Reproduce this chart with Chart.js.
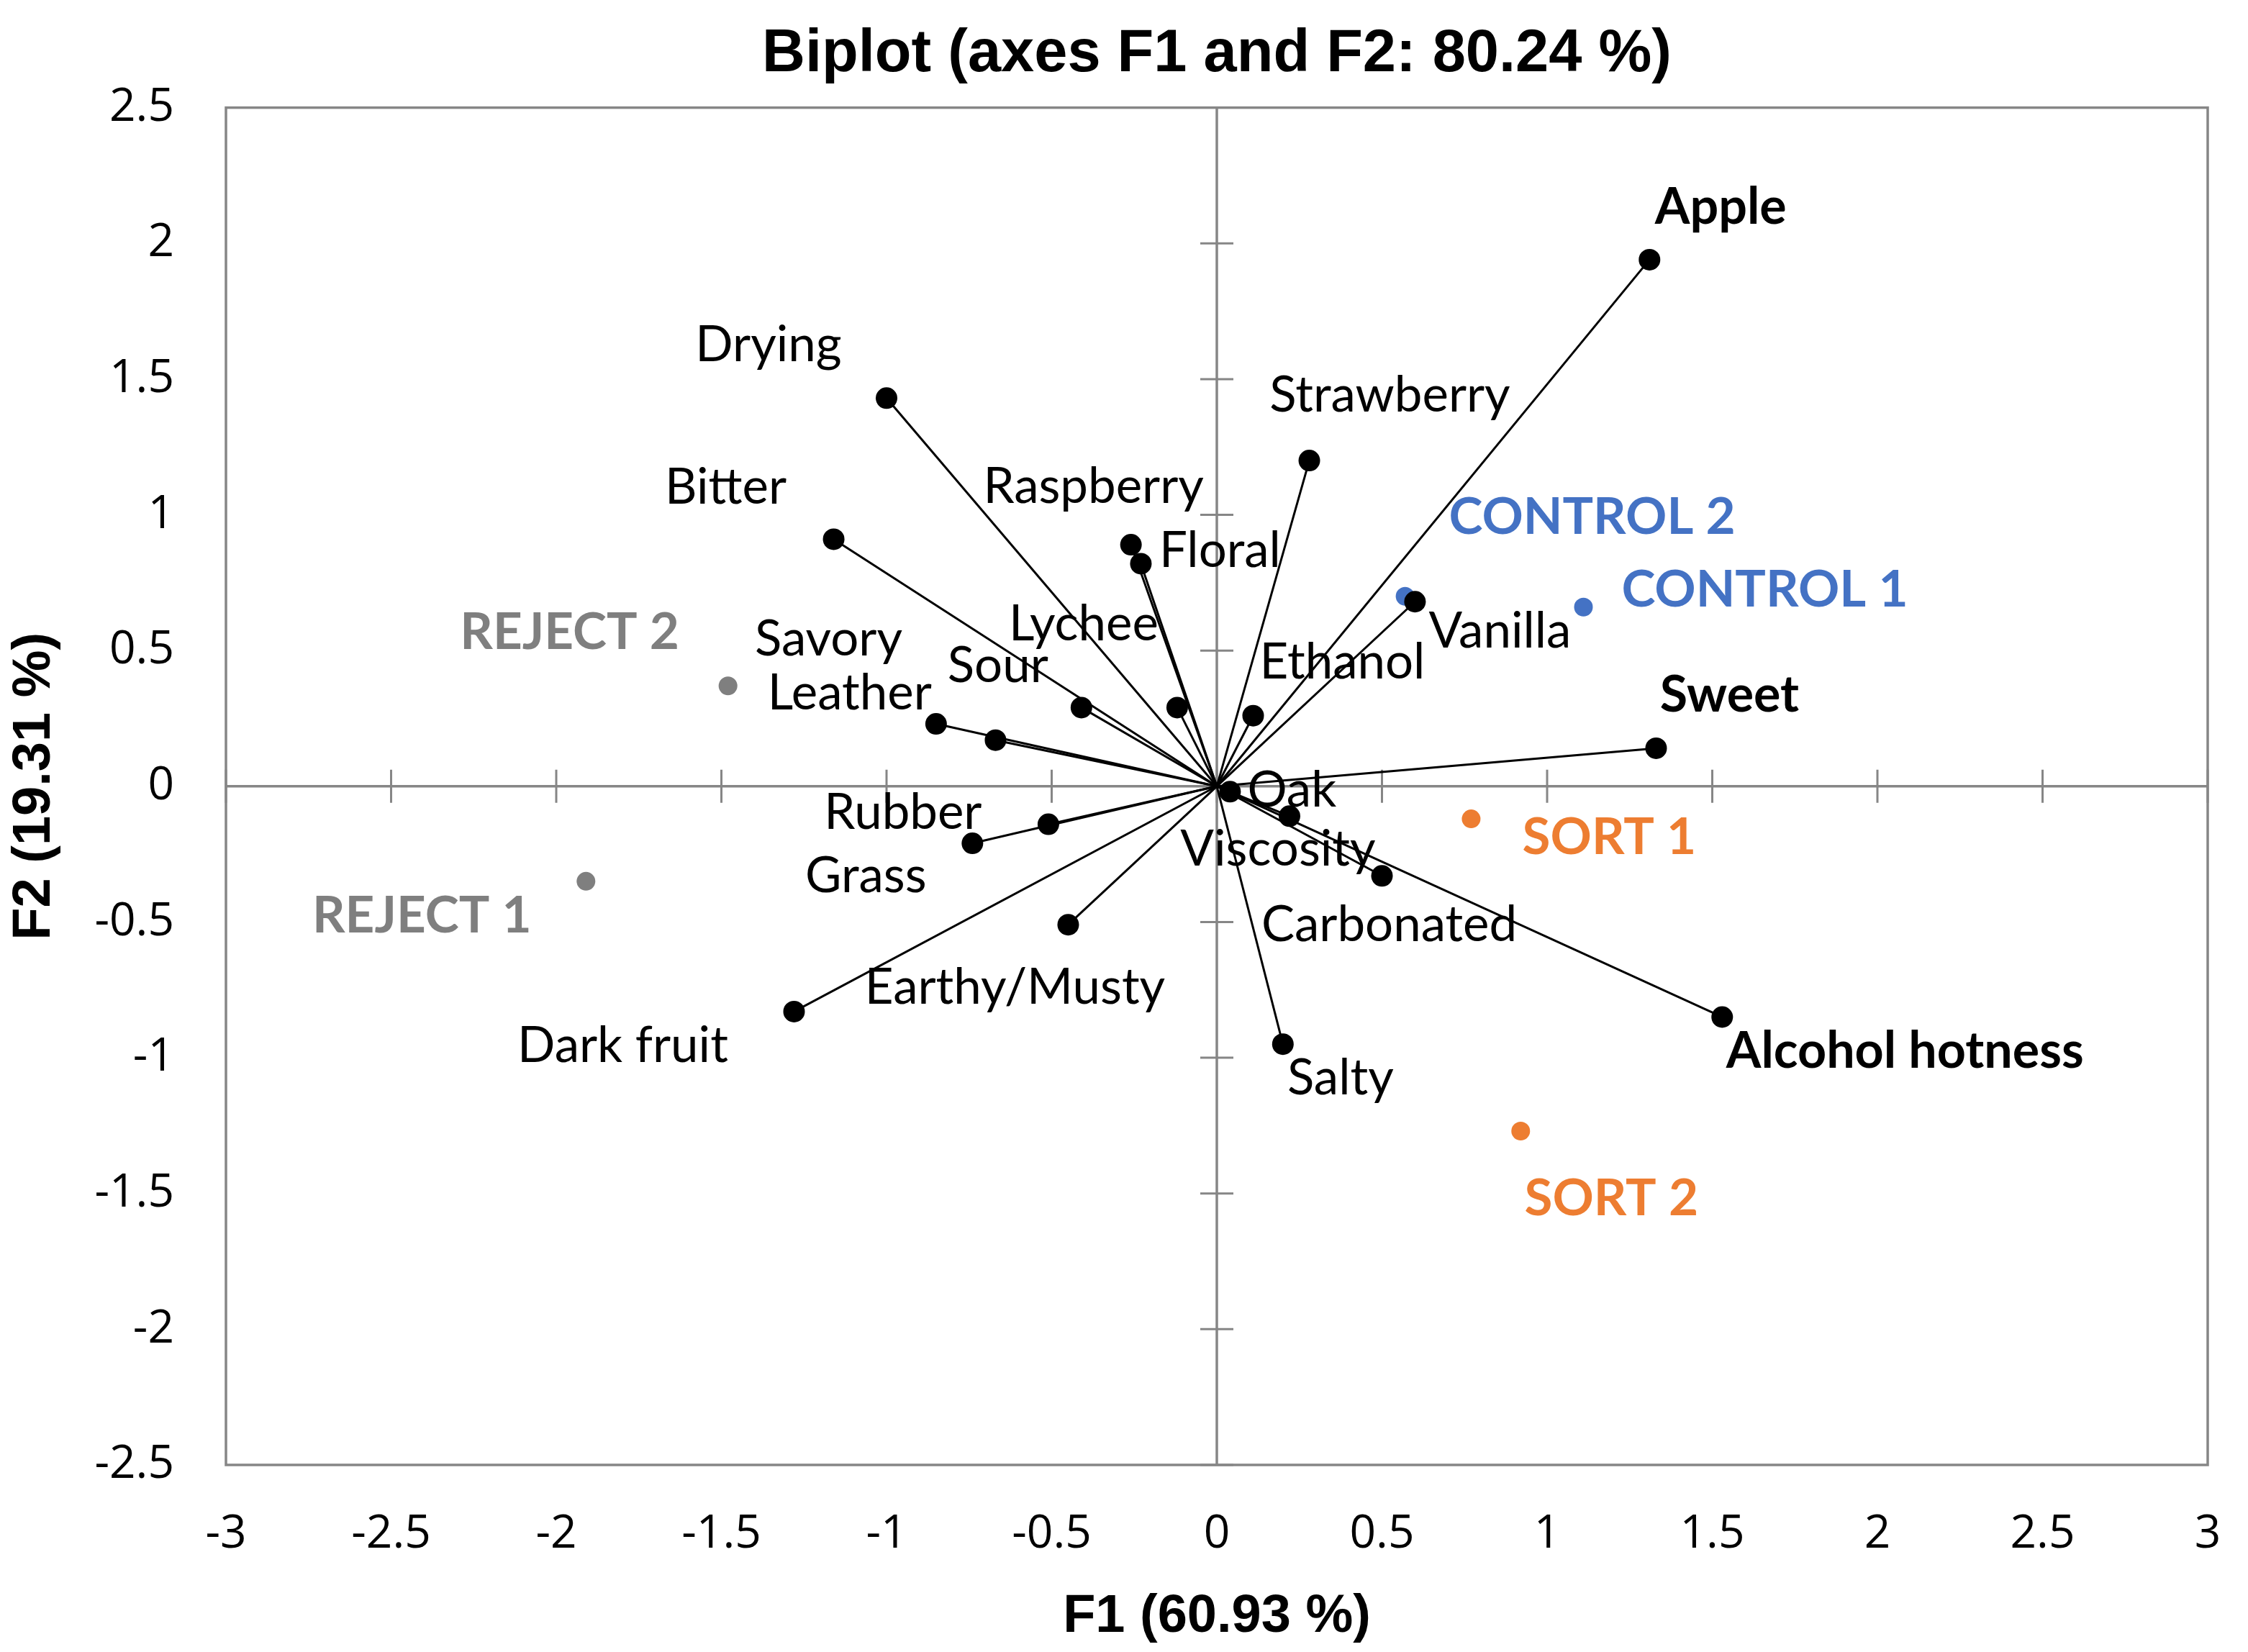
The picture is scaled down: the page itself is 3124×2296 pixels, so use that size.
<!DOCTYPE html>
<html>
<head>
<meta charset="utf-8">
<title>Biplot</title>
<script src="https://cdn.jsdelivr.net/npm/chart.js@4.4.1/dist/chart.umd.min.js"></script>
<style>
    body{
        margin:0;
        background:#ffffff;
    }
    .chart-box{
        width:3124px;
        height:2296px;
    }
</style>
</head>
<body>

<div class="chart-box">
    <canvas id="biplotChart"></canvas>
</div>

<script>

// =========================
// DATA
// =========================

const variableNames = [
    'Apple','Drying','Strawberry','Bitter','Raspberry','Floral',
    'Vanilla','Ethanol','Lychee','Sour','Leather','Savory',
    'Sweet','Oak','Viscosity','Carbonated','Rubber','Grass',
    'Earthy/Musty','Dark fruit','Salty','Alcohol hotness'
];

const variableF1 = [
    1.31,-1.00,0.28,-1.16,-0.26,-0.23,
    0.60,0.11,-0.12,-0.41,-0.85,-0.67,
    1.33,0.04,0.22,0.50,-0.51,-0.74,
    -0.45,-1.28,0.20,1.53
];

const variableF2 = [
    1.94,1.43,1.20,0.91,0.89,0.82,
    0.68,0.26,0.29,0.29,0.23,0.17,
    0.14,-0.02,-0.11,-0.33,-0.14,-0.21,
    -0.51,-0.83,-0.95,-0.85
];

const observationNames = [
    'CONTROL 2','CONTROL 1','REJECT 2','REJECT 1','SORT 1','SORT 2'
];

const observationF1 = [0.57,1.11,-1.48,-1.91,0.77,0.92];

const observationF2 = [0.70,0.66,0.37,-0.35,-0.12,-1.27];

const xTicks = [-3,-2.5,-2,-1.5,-1,-0.5,0,0.5,1,1.5,2,2.5,3];

const yTicks = [-2.5,-2,-1.5,-1,-0.5,0,0.5,1,1.5,2,2.5];

// =========================
// STYLES
// =========================

const axisGray = '#868686';

const observationColors = {
    'CONTROL 2':'#4472C4',
    'CONTROL 1':'#4472C4',
    'REJECT 2':'#7F7F7F',
    'REJECT 1':'#7F7F7F',
    'SORT 1':'#ED7D31',
    'SORT 2':'#ED7D31'
};

const boldVariables = ['Apple','Sweet','Alcohol hotness'];

// label centre offsets from the point, in pixels
const labelOffsets = {
    'Apple':[99,-72],
    'Drying':[-164,-74],
    'Strawberry':[112,-90],
    'Bitter':[-150,-72],
    'Raspberry':[-52,-80],
    'Floral':[110,-18],
    'Vanilla':[118,42],
    'Ethanol':[124,-74],
    'Lychee':[-130,-116],
    'Sour':[-116,-58],
    'Leather':[-120,-42],
    'Savory':[-232,-140],
    'Sweet':[102,-74],
    'Oak':[86,-2],
    'Viscosity':[-16,46],
    'Carbonated':[10,68],
    'Rubber':[-202,-16],
    'Grass':[-148,46],
    'Earthy/Musty':[-74,88],
    'Dark fruit':[-238,48],
    'Salty':[80,48],
    'Alcohol hotness':[254,48],
    'CONTROL 2':[260,-110],
    'CONTROL 1':[252,-24],
    'REJECT 2':[-220,-74],
    'REJECT 1':[-228,48],
    'SORT 1':[192,26],
    'SORT 2':[126,94]
};

const labelFont = 'Lato, "Open Sans", sans-serif';

// =========================
// DATASETS
// =========================

const datasets = [];

variableNames.forEach((name,i)=>{

    datasets.push({
        label:name,
        data:[
            {x:0,y:0},
            {x:variableF1[i],y:variableF2[i]}
        ],
        showLine:true,
        borderColor:'#000000',
        borderWidth:3,
        pointRadius:[0,15],
        pointBackgroundColor:'#000000',
        pointBorderWidth:0
    });

});

datasets.push({
    label:'Observations',
    data:observationNames.map((name,i)=>({
        x:observationF1[i],
        y:observationF2[i]
    })),
    showLine:false,
    pointRadius:13,
    pointBorderWidth:0,
    pointBackgroundColor:observationNames.map(n=>observationColors[n])
});

// =========================
// FRAME + ZERO AXES
// =========================

const framePlugin = {

    id:'frame',

    beforeDatasetsDraw(chart){

        const ctx = chart.ctx;
        const area = chart.chartArea;
        const xs = chart.scales.x;
        const ys = chart.scales.y;

        const x0 = xs.getPixelForValue(0);
        const y0 = ys.getPixelForValue(0);

        ctx.save();
        ctx.strokeStyle = axisGray;
        ctx.lineWidth = 3.5;

        ctx.strokeRect(
            area.left,
            area.top,
            area.right - area.left,
            area.bottom - area.top
        );

        ctx.beginPath();
        ctx.moveTo(area.left,y0);
        ctx.lineTo(area.right,y0);
        ctx.moveTo(x0,area.top);
        ctx.lineTo(x0,area.bottom);
        ctx.stroke();

        ctx.lineWidth = 3;
        ctx.beginPath();

        xTicks.forEach(v=>{
            const px = xs.getPixelForValue(v);
            ctx.moveTo(px,y0 - 23);
            ctx.lineTo(px,y0 + 23);
        });

        yTicks.forEach(v=>{
            const py = ys.getPixelForValue(v);
            ctx.moveTo(x0 - 23,py);
            ctx.lineTo(x0 + 23,py);
        });

        ctx.stroke();
        ctx.restore();

    }

};

// =========================
// POINT LABELS
// =========================

const labelPlugin = {

    id:'pointLabels',

    afterDatasetsDraw(chart){

        const ctx = chart.ctx;
        const xs = chart.scales.x;
        const ys = chart.scales.y;

        ctx.save();
        ctx.textAlign = 'center';
        ctx.textBaseline = 'middle';

        variableNames.forEach((name,i)=>{

            const off = labelOffsets[name];
            const bold = boldVariables.includes(name);

            ctx.font = bold ? 'bold 70px ' + labelFont : '69px ' + labelFont;
            ctx.fillStyle = '#000000';

            ctx.fillText(
                name,
                xs.getPixelForValue(variableF1[i]) + off[0],
                ys.getPixelForValue(variableF2[i]) + off[1]
            );

        });

        observationNames.forEach((name,i)=>{

            const off = labelOffsets[name];

            ctx.font = 'bold 71px ' + labelFont;
            ctx.fillStyle = observationColors[name];

            ctx.fillText(
                name,
                xs.getPixelForValue(observationF1[i]) + off[0],
                ys.getPixelForValue(observationF2[i]) + off[1]
            );

        });

        ctx.restore();

    }

};

// =========================
// CHART
// =========================

const tickText = v => String(Math.round(v * 10) / 10);

const biplotCtx =
document.getElementById('biplotChart');

new Chart(biplotCtx,{

    type:'scatter',

    data:{
        datasets:datasets
    },

    options:{

        responsive:true,
        maintainAspectRatio:false,
        devicePixelRatio:1,
        animation:false,

        layout:{
            padding:{left:0,right:56,top:0,bottom:0}
        },

        plugins:{
            legend:{display:false},
            tooltip:{enabled:false},
            title:{
                display:true,
                fullSize:false,
                text:'Biplot (axes F1 and F2: 80.24 %)',
                color:'#000000',
                font:{
                    family:'"Liberation Sans", Arial, sans-serif',
                    size:83,
                    weight:'bold'
                },
                padding:{top:26,bottom:24}
            }
        },

        scales:{

            x:{
                type:'linear',
                min:-3,
                max:3,
                afterFit(scale){
                    scale.height = 260;
                    scale.paddingLeft = 0;
                    scale.paddingRight = 0;
                },
                afterBuildTicks(scale){
                    scale.ticks = xTicks.map(v=>({value:v}));
                },
                grid:{display:false,drawTicks:false},
                border:{display:false},
                ticks:{
                    callback:tickText,
                    color:'#000000',
                    padding:58,
                    maxRotation:0,
                    autoSkip:false,
                    font:{family:'"Open Sans", sans-serif',size:64}
                },
                title:{
                    display:true,
                    text:'F1 (60.93 %)',
                    color:'#000000',
                    font:{
                        family:'"Liberation Sans", Arial, sans-serif',
                        size:74,
                        weight:'bold'
                    }
                }
            },

            y:{
                type:'linear',
                min:-2.5,
                max:2.5,
                afterFit(scale){
                    scale.width = 314;
                    scale.paddingTop = 0;
                    scale.paddingBottom = 0;
                },
                afterBuildTicks(scale){
                    scale.ticks = yTicks.map(v=>({value:v}));
                },
                grid:{display:false,drawTicks:false},
                border:{display:false},
                ticks:{
                    callback:tickText,
                    color:'#000000',
                    padding:72,
                    autoSkip:false,
                    font:{family:'"Open Sans", sans-serif',size:64}
                },
                title:{
                    display:true,
                    text:'F2 (19.31 %)',
                    color:'#000000',
                    font:{
                        family:'"Liberation Sans", Arial, sans-serif',
                        size:74,
                        weight:'bold'
                    }
                }
            }

        }

    },

    plugins:[framePlugin,labelPlugin]

});

</script>

</body>
</html>
